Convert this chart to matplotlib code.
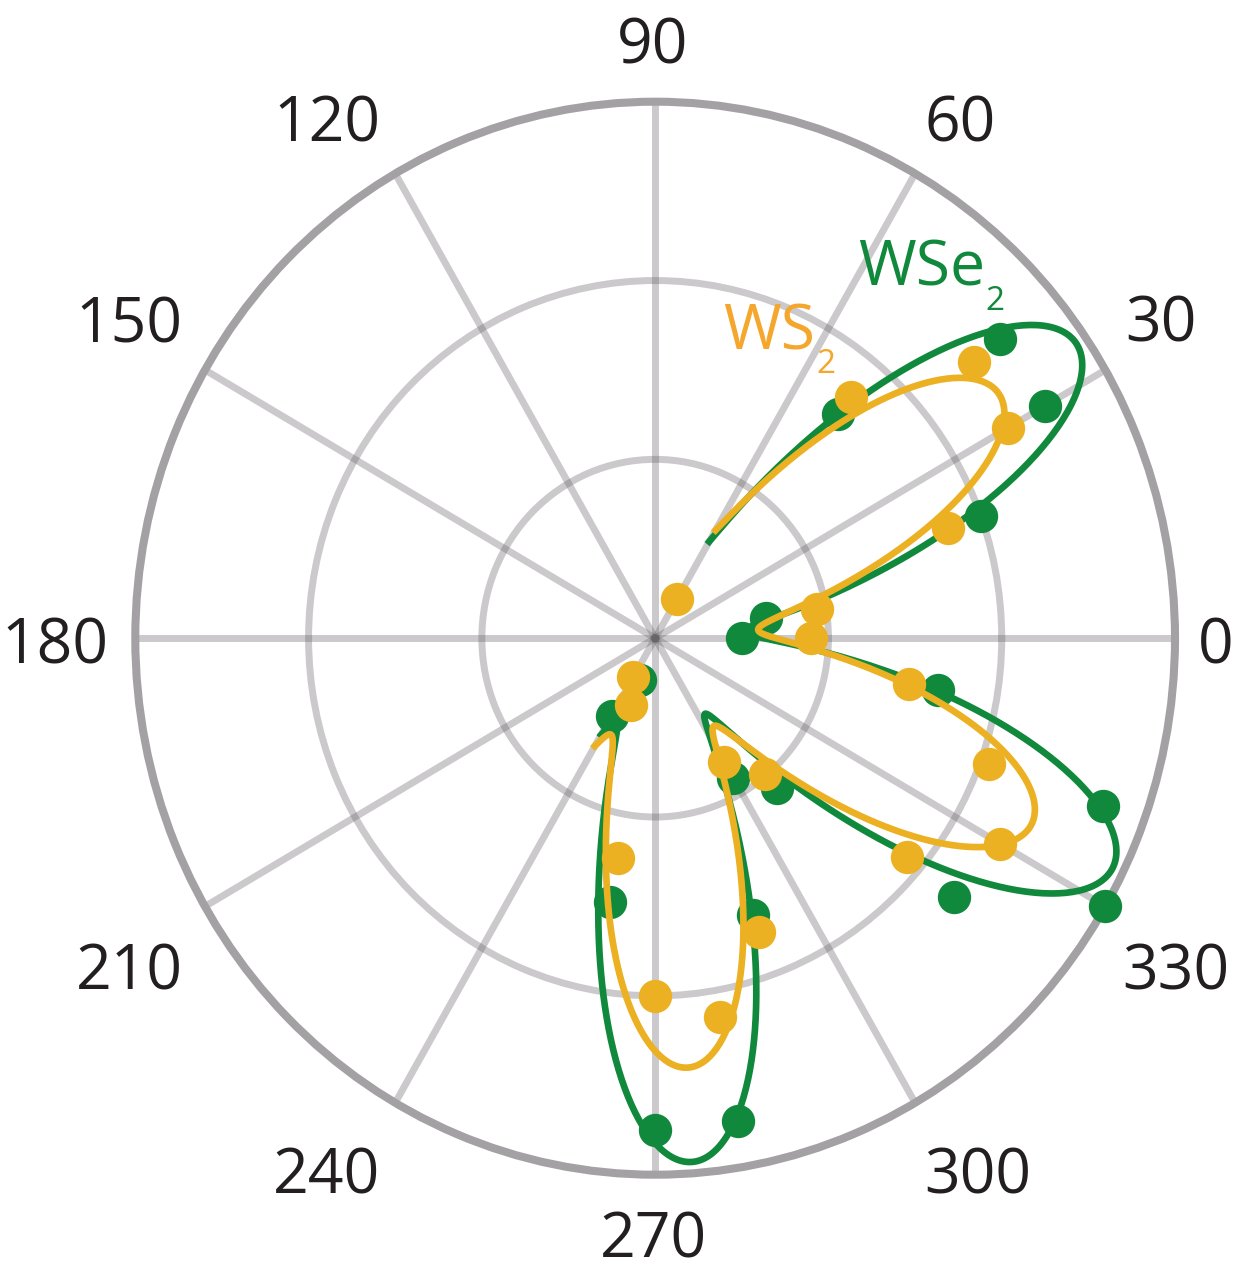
import numpy as np
import matplotlib
matplotlib.use('Agg')
import matplotlib.pyplot as plt

# SHG intensity vs polarisation angle (deg); outer ring = 3
angles_wse2 = [-120, -110, -100, -90, -80, -70, -60, -50, -40, -30,
               -20, -10, 0, 10, 20, 30, 40, 50]
r_wse2 = [0.50, 0.25, 1.50, 2.75, 2.74, 1.65, 0.90, 1.09, 2.25, 3.00,
          2.75, 1.66, 0.50, 0.65, 2.00, 2.60, 2.60, 1.64]

angles_ws2 = [-120, -110, -100, -90, -80, -70, -60, -50, -40, -30,
              -20, -10, 0, 10, 20, 30, 40, 50, 60]
r_ws2 = [0.25, 0.40, 1.25, 2.00, 2.15, 1.75, 0.80, 0.99, 1.90, 2.30,
         2.05, 1.49, 0.90, 0.95, 1.80, 2.35, 2.40, 1.76, 0.25]

fit_range = (-120, 60)
tick_angles = list(range(0, 360, 30))
tick_labels = [str(a) for a in tick_angles]

# Colours
green = '#10893c'
yellow = '#ecb123'
orange = '#f4a62d'
grid_color = '#6a656a'

W, H = 1234, 1270
# label positions in pixels (centre x, baseline y)
tick_label_px = {
    0: (1216, 663), 30: (1161, 342), 60: (960, 141), 90: (653, 63),
    120: (327, 141), 150: (129, 343), 180: (55, 663), 210: (129, 989),
    240: (327, 1193), 270: (653, 1257), 300: (978, 1193), 330: (1176, 989),
}

plt.rcParams['font.family'] = ['Open Sans', 'DejaVu Sans']


def fit_cos2(deg, r):
    # I = B + A cos^2(3(theta - theta0)) -> linear in [1, cos6t, sin6t]
    t = np.radians(deg)
    basis = np.column_stack([np.ones_like(t), np.cos(6 * t), np.sin(6 * t)])
    coef = np.linalg.lstsq(basis, np.asarray(r), rcond=None)[0]
    tt = np.radians(np.linspace(fit_range[0], fit_range[1], 721))
    rr = coef[0] + coef[1] * np.cos(6 * tt) + coef[2] * np.sin(6 * tt)
    return tt, rr


def px(x, y):
    return x / W, 1 - y / H


fig = plt.figure(figsize=(W / 100, H / 100), dpi=100)
ax = fig.add_axes([135.3 / W, 1 - 1174.7 / H, 1039.7 / W, 1073 / H],
                  projection='polar')
ax.set_aspect('auto')
ax.set_ylim(0, 3)
ax.set_rticks([1, 2])
ax.set_yticklabels([])
ax.set_xticks(np.radians(tick_angles))
ax.set_xticklabels([])
ax.tick_params(length=0)
ax.grid(True, color=grid_color, alpha=0.35, linewidth=5)
ax.spines['polar'].set_color('#a3a1a3')
ax.spines['polar'].set_linewidth(5.8)

t, r = fit_cos2(angles_wse2, r_wse2)
ax.plot(t, r, color=green, lw=4.8, zorder=3)
ax.plot(np.radians(angles_wse2), r_wse2, 'o', ms=24, color=green,
        mec='none', zorder=4, clip_on=False)

t, r = fit_cos2(angles_ws2, r_ws2)
ax.plot(t, r, color=yellow, lw=4.8, zorder=5)
ax.plot(np.radians(angles_ws2), r_ws2, 'o', ms=24, color=yellow,
        mec='none', zorder=6, clip_on=False)

for a, lab in zip(tick_angles, tick_labels):
    x, y = tick_label_px[a]
    fig.text(*px(x, y), lab, ha='center', va='baseline', fontsize=45,
             color='#231f20')

# series labels with subscripts
fig.text(*px(858, 285), 'WSe', ha='left', va='baseline', fontsize=45,
         color=green)
fig.text(*px(985, 310), '2', ha='left', va='baseline', fontsize=24,
         color=green)
fig.text(*px(723, 350), 'WS', ha='left', va='baseline', fontsize=45,
         color=orange)
fig.text(*px(816, 373), '2', ha='left', va='baseline', fontsize=24,
         color=orange)

fig.savefig('out.png', dpi=100)
